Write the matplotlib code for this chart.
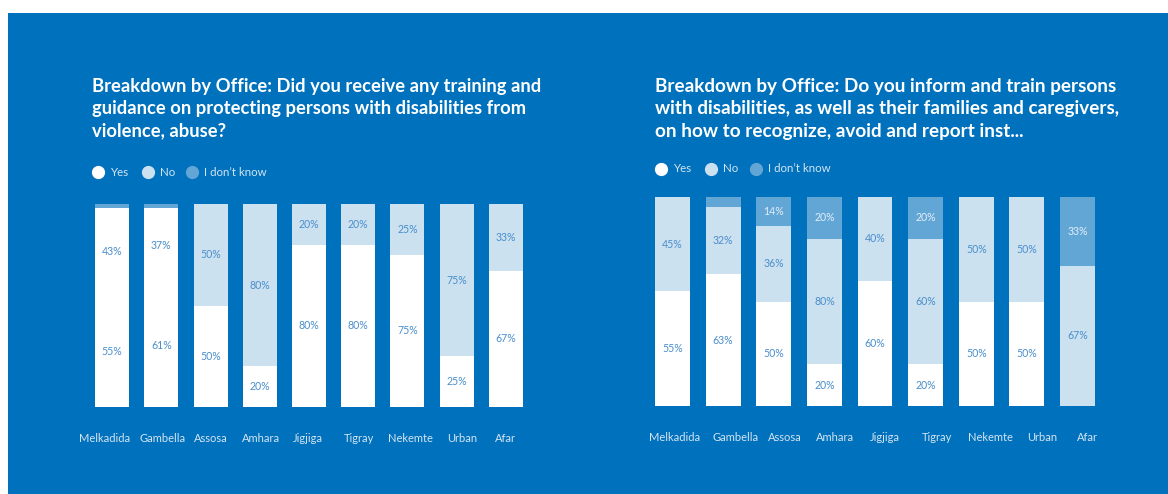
import matplotlib
matplotlib.use("Agg")
import matplotlib.pyplot as plt
from matplotlib.lines import Line2D
from matplotlib.patches import Rectangle
from matplotlib.transforms import ScaledTranslation

offices = ["Melkadida", "Gambella", "Assosa", "Amhara", "Jigjiga",
           "Tigray", "Nekemte", "Urban", "Afar"]

# left chart: training and guidance received
train_yes = [55, 61, 50, 20, 80, 80, 75, 25, 67]
train_no = [43, 37, 50, 80, 20, 20, 25, 75, 33]
train_idk = [2, 2, 0, 0, 0, 0, 0, 0, 0]

# right chart: inform and train persons with disabilities
inform_yes = [55, 63, 50, 20, 60, 20, 50, 50, 0]
inform_no = [45, 32, 36, 60, 40, 60, 50, 50, 67]
inform_idk = [0, 5, 14, 20, 0, 20, 0, 0, 33]
# labels as printed in the source (Amhara "No" reads 80%)
inform_no_labels = ["45%", "32%", "36%", "80%", "40%", "60%", "50%", "50%", "67%"]

title_left = ("Breakdown by Office: Did you receive any training and\n"
              "guidance on protecting persons with disabilities from\n"
              "violence, abuse?")
title_right = ("Breakdown by Office: Do you inform and train persons\n"
               "with disabilities, as well as their families and caregivers,\n"
               "on how to recognize, avoid and report inst...")

BG = "#0071BC"
C_YES = "#FFFFFF"
C_NO = "#CCE1F0"
C_IDK = "#62A6D6"
TXT = "#4A8ECB"
TXT_DARK = "#E3EEF8"
TICK = "#D4E5F4"

plt.rcParams["font.family"] = ["Lato", "DejaVu Sans"]

fig = plt.figure(figsize=(11.68, 4.94), dpi=100)
fig.patch.set_facecolor("white")
fig.add_artist(Rectangle((8 / 1168, 0), 1, 1 - 13 / 494, transform=fig.transFigure,
                         facecolor=BG, edgecolor="none", zorder=-10))


def draw(ax, yes, no, idk, no_labels=None, no_colors=None, shifts=None):
    ax.set_facecolor("none")
    x = range(len(offices))
    w = 0.69
    if no_colors is None:
        no_colors = [C_NO] * len(no)
    ax.bar(x, yes, width=w, color=C_YES, linewidth=0)
    ax.bar(x, no, width=w, bottom=yes, color=no_colors, linewidth=0)
    tops = [a + b for a, b in zip(yes, no)]
    ax.bar(x, idk, width=w, bottom=tops, color=C_IDK, linewidth=0)
    for i in x:
        if yes[i] > 0:
            ax.text(i, yes[i] / 2, f"{yes[i]}%", ha="center", va="center",
                    fontsize=7.6, color=TXT)
        if no[i] > 0:
            lab = no_labels[i] if no_labels else f"{no[i]}%"
            ax.text(i, yes[i] + no[i] / 2, lab, ha="center", va="center",
                    fontsize=7.6, color=TXT)
        if idk[i] >= 10:
            ax.text(i, tops[i] + idk[i] / 2, f"{idk[i]}%", ha="center",
                    va="center", fontsize=7.6, color=TXT_DARK)
    ax.set_xlim(-0.5, len(offices) - 0.5)
    ax.set_ylim(0, 100)
    ax.set_xticks(list(x))
    ax.set_xticklabels(offices, fontsize=8.0, color=TICK)
    ax.tick_params(axis="x", length=0, pad=19)
    ax.set_yticks([])
    for s in ax.spines.values():
        s.set_visible(False)
    # the source's office names sit a little off the bar centres
    if shifts:
        for lab, dx in zip(ax.get_xticklabels(), shifts):
            lab.set_transform(lab.get_transform()
                              + ScaledTranslation(dx / 100, 0, fig.dpi_scale_trans))


def legend(y0, xs):
    names = ["Yes", "No", "I don\u2019t know"]
    cols = [C_YES, C_NO, C_IDK]
    for (cx, tx), name, c in zip(xs, names, cols):
        fig.add_artist(Line2D([cx / 1168], [1 - y0 / 494], marker="o",
                              markersize=8.5, color=c, linestyle="none",
                              transform=fig.transFigure))
        fig.text(tx / 1168, 1 - y0 / 494, name, fontsize=8.3, color=TICK,
                 va="center", ha="left")


ax1 = fig.add_axes([87.4 / 1168, 87 / 494, 443.2 / 1168, 203 / 494])
draw(ax1, train_yes, train_no, train_idk,
     no_colors=[C_YES, C_YES] + [C_NO] * 7,
     shifts=[-7, 1, 0, 1, -1, 1, 3, 5, -1])
ax2 = fig.add_axes([647.2 / 1168, 88 / 494, 455.6 / 1168, 209 / 494])
draw(ax2, inform_yes, inform_no, inform_idk, no_labels=inform_no_labels,
     shifts=[2, 12, 11, 11, 10, 11, 14, 15, 10])

fig.text(92 / 1168, 1 - 78 / 494, title_left, fontsize=13.2, fontweight="bold",
         color="white", va="top", ha="left", linespacing=1.38)
fig.text(655 / 1168, 1 - 78 / 494, title_right, fontsize=13.6, fontweight="bold",
         color="white", va="top", ha="left", linespacing=1.38)

legend(172, [(98, 110), (148, 160), (192, 204)])
legend(169, [(661, 673), (711, 723), (756, 768)])

fig.savefig("out.png", dpi=100, facecolor=fig.get_facecolor())
